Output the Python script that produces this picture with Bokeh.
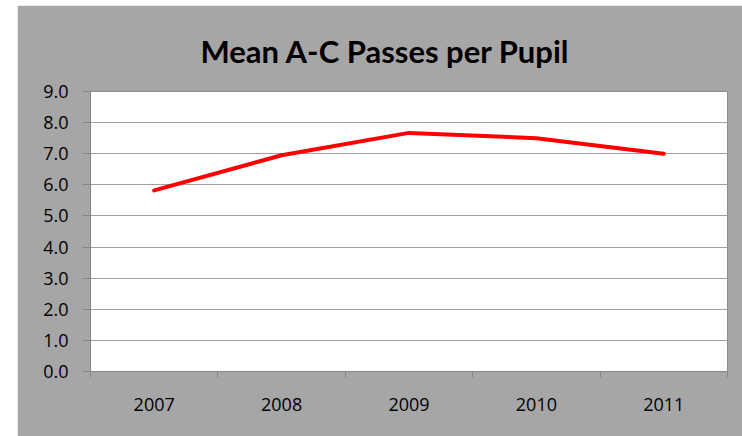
from bokeh.plotting import figure
from bokeh.models import FixedTicker, Range1d, Spacer, NumeralTickFormatter
from bokeh.layouts import row, column
from bokeh.embed import file_html
from bokeh.resources import INLINE

title_text = "Mean A-C Passes per Pupil"
years = ["2007", "2008", "2009", "2010", "2011"]
mean_passes = [5.82, 6.95, 7.67, 7.50, 7.00]
y_ticks = [0, 1, 2, 3, 4, 5, 6, 7, 8, 9]

xs = list(range(1, len(years) + 1))
GRAY = "#a6a6a6"
AXIS = "#868686"

p = figure(width=725, height=431, output_backend="svg", toolbar_location=None,
           x_range=Range1d(0.5, len(years) + 0.5), y_range=Range1d(0, 9),
           min_border_left=73, min_border_right=15, min_border_top=86,
           min_border_bottom=65, background_fill_color="white",
           border_fill_color=GRAY, outline_line_color="#8c8c8c",
           title=title_text)
p.title.align = "left"
p.title.text_font = "Lato"
p.title.text_font_style = "bold"
p.title.text_font_size = "31px"
p.title.text_color = "black"
p.title.standoff = 44
p.title.offset = 110

p.line(xs, mean_passes, line_color="#ff0000", line_width=4, line_cap="round")

xa = p.xaxis[0]
xa.ticker = FixedTicker(ticks=xs, minor_ticks=[x - 0.5 for x in xs] + [len(xs) + 0.5])
xa.major_label_overrides = {x: y for x, y in zip(xs, years)}
xa.major_tick_out = 0
xa.major_tick_in = 0
xa.minor_tick_out = 6
xa.minor_tick_in = 0
xa.minor_tick_line_color = AXIS
xa.axis_line_color = AXIS
xa.major_label_standoff = 20
xa.major_label_text_font = "Open Sans"
xa.major_label_text_font_size = "18px"
xa.major_label_text_color = "black"

ya = p.yaxis[0]
ya.ticker = FixedTicker(ticks=y_ticks)
ya.formatter = NumeralTickFormatter(format="0.0")
ya.major_tick_out = 8
ya.major_tick_in = 0
ya.minor_tick_out = 0
ya.minor_tick_in = 0
ya.major_tick_line_color = AXIS
ya.axis_line_color = AXIS
ya.major_label_standoff = 14
ya.major_label_text_font = "Open Sans"
ya.major_label_text_font_size = "18px"
ya.major_label_text_color = "black"

p.xgrid.grid_line_color = None
p.ygrid.grid_line_color = "#a0a0a0"
p.ygrid.grid_line_width = 1.2

layout = column(Spacer(height=5, width=742), row(Spacer(width=17, height=431), p))
open("out.html", "w").write(file_html(layout, INLINE))
